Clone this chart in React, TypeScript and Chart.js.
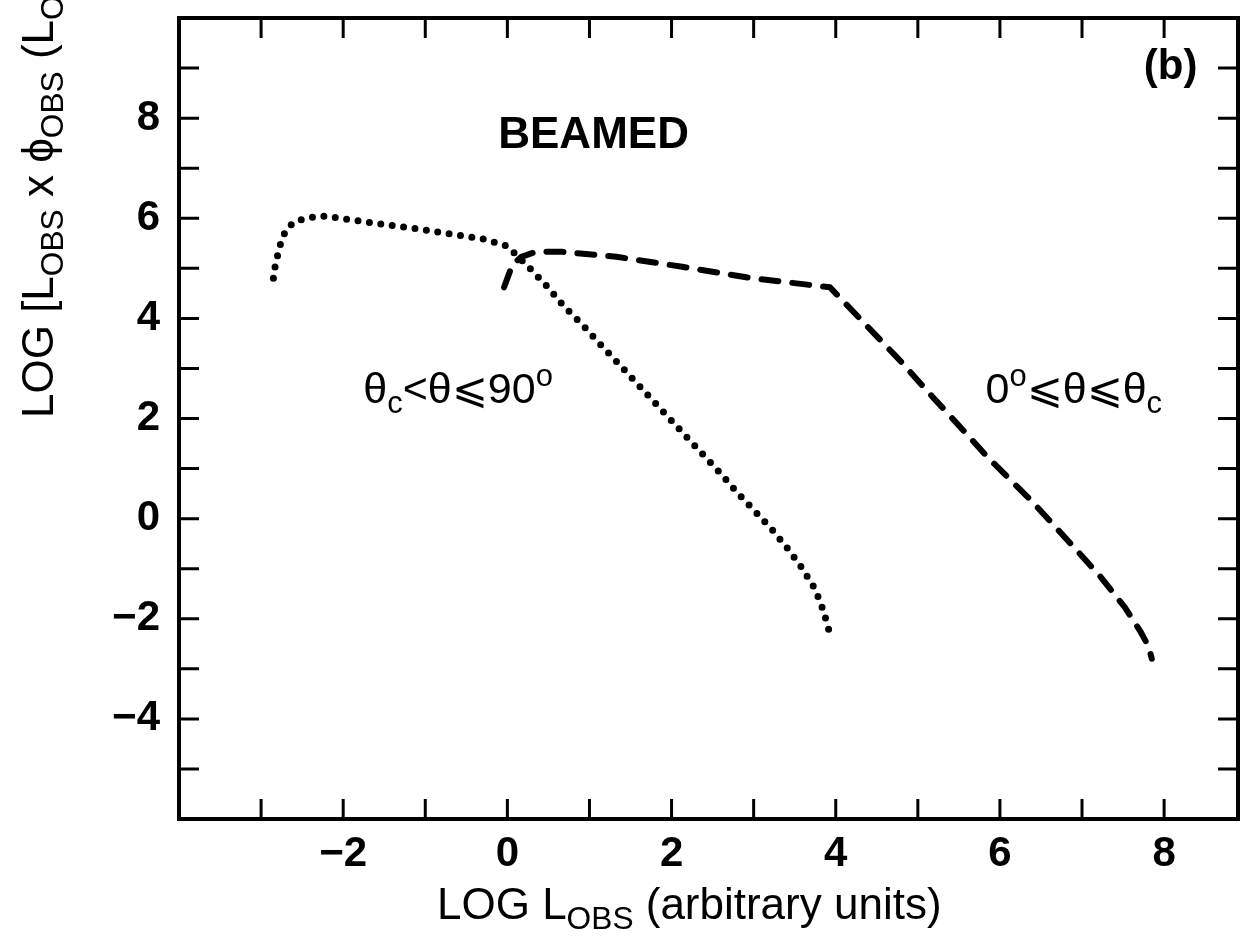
import React, { useEffect, useRef } from "react";
import { Chart, registerables } from "chart.js";

Chart.register(...registerables);

// ---- data ----
const dottedX = [-2.85, -2.83, -2.8, -2.77, -2.73, -2.67, -2.58, -2.45, -2.31, -2.18, -2.05, -1.78, -1.52, -1.11, -0.71, -0.3, -0.01, 0.09, 0.28, 0.49, 0.69, 0.91, 1.11, 1.34, 1.8, 2.4, 2.61, 2.8, 3.02, 3.23, 3.42, 3.59, 3.75, 3.85, 3.92];
const dottedY = [4.8, 5.03, 5.25, 5.45, 5.65, 5.82, 5.94, 6.0, 6.04, 6.04, 6.0, 5.94, 5.88, 5.79, 5.69, 5.59, 5.45, 5.3, 4.99, 4.63, 4.24, 3.88, 3.52, 3.12, 2.31, 1.25, 0.88, 0.52, 0.14, -0.23, -0.61, -0.99, -1.41, -1.84, -2.25];

const dashedX = [-0.04, 0.06, 0.17, 0.35, 0.67, 1.33, 2.13, 2.95, 3.93, 4.77, 5.18, 5.4, 5.86, 6.37, 6.84, 7.22, 7.52, 7.71, 7.81, 7.85];
const dashedY = [4.62, 5.07, 5.23, 5.33, 5.33, 5.23, 5.03, 4.81, 4.62, 3.18, 2.43, 2.04, 1.21, 0.38, -0.46, -1.15, -1.77, -2.25, -2.55, -2.8];

const xLabelTicks = [-2, 0, 2, 4, 6, 8];
const yLabelTicks = [-4, -2, 0, 2, 4, 6, 8];
const xMarkTicks = [-3, -2, -1, 0, 1, 2, 3, 4, 5, 6, 7, 8];
const yMarkTicks = [-5, -4, -3, -2, -1, 0, 1, 2, 3, 4, 5, 6, 7, 8, 9];

const X_MIN = -4;
const X_MAX = 8.9;
const Y_MIN = -6;
const Y_MAX = 10;

const FONT = '"Liberation Sans", "DejaVu Sans", Arial, sans-serif';

type Seg = { t: string; sub?: boolean; sup?: boolean };

const xTitle: Seg[] = [{ t: "LOG L" }, { t: "OBS", sub: true }, { t: " (arbitrary units)" }];
const yTitle: Seg[] = [
  { t: "LOG [L" },
  { t: "OBS", sub: true },
  { t: " x ϕ" },
  { t: "OBS", sub: true },
  { t: " (L" },
  { t: "OBS", sub: true },
  { t: ")]" },
];
const labelBeamed: Seg[] = [{ t: "BEAMED" }];
const labelB: Seg[] = [{ t: "(b)" }];
const labelLeft: Seg[] = [{ t: "θ" }, { t: "c", sub: true }, { t: "<θ⩽90" }, { t: "o", sup: true }];
const labelRight: Seg[] = [{ t: "0" }, { t: "o", sup: true }, { t: "⩽θ⩽θ" }, { t: "c", sub: true }];

const fmt = (v: number) => (v < 0 ? "\u2212" + Math.abs(v) : String(v));

function drawRich(
  ctx: CanvasRenderingContext2D,
  segs: Seg[],
  x: number,
  y: number,
  size: number,
  weight: string,
  align: "left" | "center",
  rotate = false
) {
  ctx.save();
  ctx.fillStyle = "#000";
  ctx.textBaseline = "alphabetic";
  ctx.textAlign = "left";
  const sizes = segs.map((s) => (s.sub || s.sup ? size * 0.72 : size));
  const widths = segs.map((s, i) => {
    ctx.font = `${weight} ${sizes[i]}px ${FONT}`;
    return ctx.measureText(s.t).width;
  });
  const total = widths.reduce((a, b) => a + b, 0);
  ctx.translate(x, y);
  if (rotate) ctx.rotate(-Math.PI / 2);
  let cx = align === "center" ? -total / 2 : 0;
  segs.forEach((s, i) => {
    ctx.font = `${weight} ${sizes[i]}px ${FONT}`;
    const dy = s.sub ? size * 0.22 : s.sup ? -size * 0.4 : 0;
    ctx.fillText(s.t, cx, dy);
    cx += widths[i];
  });
  ctx.restore();
}

const framePlugin = {
  id: "frameTicks",
  afterDatasetsDraw(chart: any) {
    const { ctx, chartArea: a, scales } = chart;
    const xs = scales.x;
    const ys = scales.y;
    const L = 20;
    ctx.save();
    ctx.strokeStyle = "#000";
    ctx.lineWidth = 3;
    ctx.beginPath();
    xMarkTicks.forEach((v) => {
      const px = xs.getPixelForValue(v);
      ctx.moveTo(px, a.bottom);
      ctx.lineTo(px, a.bottom - L);
      ctx.moveTo(px, a.top);
      ctx.lineTo(px, a.top + L);
    });
    yMarkTicks.forEach((v) => {
      const py = ys.getPixelForValue(v);
      ctx.moveTo(a.left, py);
      ctx.lineTo(a.left + L, py);
      ctx.moveTo(a.right, py);
      ctx.lineTo(a.right - L, py);
    });
    ctx.stroke();
    ctx.lineWidth = 4;
    ctx.strokeRect(a.left, a.top, a.right - a.left, a.bottom - a.top);
    ctx.restore();
  },
};

const textPlugin = {
  id: "richTexts",
  afterDraw(chart: any) {
    const { ctx, chartArea: a, scales } = chart;
    const xs = scales.x;
    const ys = scales.y;
    // axis titles
    drawRich(ctx, xTitle, 437, a.bottom + 100, 44, "normal", "left");
    drawRich(ctx, yTitle, 53, 418, 44, "normal", "left", true);
    // in-plot labels (data coordinates)
    drawRich(ctx, labelBeamed, xs.getPixelForValue(1.05), ys.getPixelForValue(7.7) + 15, 44, "bold", "center");
    drawRich(ctx, labelB, xs.getPixelForValue(8.08), ys.getPixelForValue(9.08) + 15, 42, "bold", "center");
    drawRich(ctx, labelLeft, xs.getPixelForValue(-0.6), ys.getPixelForValue(2.6) + 15, 43, "normal", "center");
    drawRich(ctx, labelRight, xs.getPixelForValue(6.9), ys.getPixelForValue(2.6) + 15, 43, "normal", "center");
  },
};

export default function App() {
  const ref = useRef<HTMLCanvasElement | null>(null);

  useEffect(() => {
    if (!ref.current) return;
    const dotted = dottedX.map((x, i) => ({ x, y: dottedY[i] }));
    const dashed = dashedX.map((x, i) => ({ x, y: dashedY[i] }));
    const tickFont = { family: FONT, size: 42, weight: "bold" as const };

    const chart = new Chart(ref.current, {
      type: "scatter",
      data: {
        datasets: [
          {
            label: "θc<θ⩽90°",
            data: dotted,
            showLine: true,
            borderColor: "#000",
            borderWidth: 7,
            borderDash: [0, 11.5],
            borderCapStyle: "round",
            borderJoinStyle: "round",
            pointRadius: 0,
            tension: 0,
          },
          {
            label: "0°⩽θ⩽θc",
            data: dashed,
            showLine: true,
            borderColor: "#000",
            borderWidth: 6,
            borderDash: [17, 14],
            borderCapStyle: "round",
            borderJoinStyle: "round",
            pointRadius: 0,
            tension: 0,
          },
        ],
      },
      options: {
        animation: false,
        responsive: false,
        devicePixelRatio: 1,
        layout: { padding: { top: 18, right: 9, left: 0, bottom: 0 } },
        plugins: {
          legend: { display: false },
          title: { display: false },
          tooltip: { enabled: false },
        },
        scales: {
          x: {
            type: "linear",
            min: X_MIN,
            max: X_MAX,
            grid: { display: false, drawTicks: false },
            border: { display: false },
            afterBuildTicks: (s: any) => {
              s.ticks = xLabelTicks.map((v) => ({ value: v }));
            },
            afterFit: (s: any) => {
              s.height = 132;
              s.paddingLeft = 0;
              s.paddingRight = 0;
              s.paddingTop = 0;
              s.paddingBottom = 0;
            },
            ticks: {
              autoSkip: false,
              maxRotation: 0,
              padding: 10,
              color: "#000",
              font: tickFont,
              callback: (v: any) => fmt(Number(v)),
            },
          },
          y: {
            type: "linear",
            min: Y_MIN,
            max: Y_MAX,
            grid: { display: false, drawTicks: false },
            border: { display: false },
            afterBuildTicks: (s: any) => {
              s.ticks = yLabelTicks.map((v) => ({ value: v }));
            },
            afterFit: (s: any) => {
              s.width = 179;
              s.paddingTop = 0;
              s.paddingBottom = 0;
              s.paddingLeft = 0;
              s.paddingRight = 0;
            },
            ticks: {
              autoSkip: false,
              padding: 19,
              color: "#000",
              font: tickFont,
              callback: (v: any) => fmt(Number(v)),
            },
          },
        },
      },
      plugins: [framePlugin, textPlugin],
    });
    return () => chart.destroy();
  }, []);

  return (
    <div style={{ position: "fixed", left: 0, top: 0, width: 1247, height: 951, background: "#fff" }}>
      <canvas ref={ref} width={1247} height={951} style={{ width: 1247, height: 951, display: "block" }} />
    </div>
  );
}
